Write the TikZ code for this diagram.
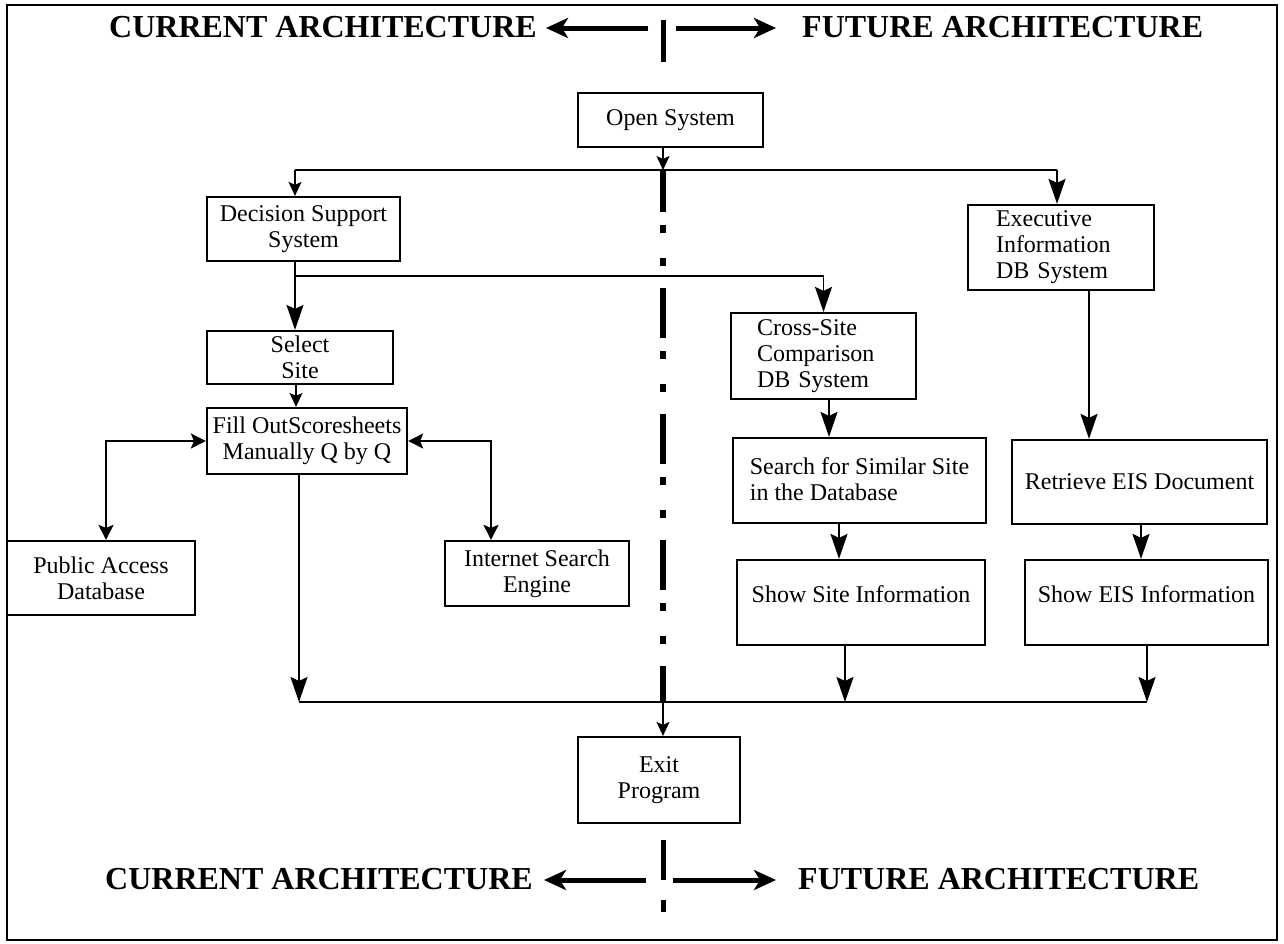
\documentclass[tikz,border=0pt]{standalone}
\usepackage{fontspec}
\setmainfont{Liberation Serif}
\usetikzlibrary{arrows.meta}
\newcommand{\bxfont}{\fontsize{24}{26}\selectfont}
\newcommand{\hdfont}{\fontsize{32}{34}\selectfont\bfseries}
\begin{document}
\begin{tikzpicture}[x=1pt,y=-1pt,
  box/.style={draw,line width=2.2pt,inner sep=0pt,font=\bxfont,align=center},
  lbox/.style={draw,line width=2.2pt,inner ysep=0pt,font=\bxfont,align=left},
  conn/.style={line width=1.8pt},
  arrS/.style={-{Stealth[length=14pt,width=13pt,inset=3pt]}},
  arrB/.style={-{Stealth[length=25pt,width=17pt,inset=4pt]}},
  arrD/.style={{Stealth[length=15pt,width=15pt,inset=3pt]}-{Stealth[length=15pt,width=15pt,inset=3pt]}},
  head/.style={font=\hdfont,inner sep=0pt},
  harr/.style={line width=5pt,-{Stealth[length=22pt,width=20pt,inset=6pt]}},
  divider/.style={line width=5pt},
  centerline/.style={line width=6pt,dash pattern=on 50pt off 13pt on 8pt off 25pt on 8pt off 22pt,dash phase=8pt}
]
\useasboundingbox (0,0) rectangle (1284,943);
\draw[line width=2pt] (7,5) rectangle (1277,940);

% headings
\node[head,anchor=base east] (ct) at (537,37) {CURRENT ARCHITECTURE};
\node[head,anchor=base west] (ft) at (802,37) {FUTURE ARCHITECTURE};
\node[head,anchor=base east] (cb) at (533,889) {CURRENT ARCHITECTURE};
\node[head,anchor=base west] (fb) at (798,889) {FUTURE ARCHITECTURE};
\coordinate (tla) at (648,28); \coordinate (tlb) at (546,28);
\coordinate (tra) at (676,28); \coordinate (trb) at (776,28);
\coordinate (bla) at (646,880); \coordinate (blb) at (544,880);
\coordinate (bra) at (673,880); \coordinate (brb) at (776,880);
\draw[harr] (tla) -- (tlb);
\draw[harr] (tra) -- (trb);
\draw[harr] (bla) -- (blb);
\draw[harr] (bra) -- (brb);
\coordinate (td0) at (663,20); \coordinate (td1) at (663,62);
\coordinate (bd0) at (663,840); \coordinate (bd1) at (663,880);
\coordinate (bd2) at (663,900); \coordinate (bd3) at (663,912);
\draw[divider] (td0) -- (td1);
\draw[divider] (bd0) -- (bd1);
\draw[divider] (bd2) -- (bd3);

% nodes
\node[box,minimum width=185pt,minimum height=54pt] (os) at (670.5,120) {Open System};
\node[box,minimum width=193pt,minimum height=64pt] (dss) at (303.5,229) {Decision Support\\System};
\node[box,minimum width=186pt,minimum height=53pt] (sel) at (300,357.5) {Select\\Site};
\node[box,minimum width=200pt,minimum height=66pt] (fill) at (307,441) {Fill OutScoresheets\\Manually Q by Q};
\node[box,minimum width=188pt,minimum height=74pt] (pa) at (101,578) {Public Access\\Database};
\node[box,minimum width=184pt,minimum height=65pt] (ise) at (537,573.5) {Internet Search\\Engine};
\node[lbox,text width=133pt,inner xsep=26pt,minimum height=86pt] (cs) at (823.5,356) {Cross-Site\\Comparison\\DB System};
\node[lbox,text width=130pt,inner xsep=28pt,minimum height=85pt] (exec) at (1061,247.5) {Executive\\Information\\DB System};
\node[lbox,inner xsep=0pt,minimum width=253pt,minimum height=85pt,text depth=3pt] (srch) at (859.5,480.5) {Search for Similar Site\\in the Database};
\node[box,minimum width=255pt,minimum height=84pt] (retr) at (1139.5,482) {Retrieve EIS Document};
\node[box,minimum width=248pt,minimum height=85pt,text depth=17pt] (ss) at (861,602.5) {Show Site Information};
\node[box,minimum width=243pt,minimum height=85pt,text depth=17pt] (se) at (1146.5,602.5) {Show EIS Information};
\node[box,minimum width=162pt,minimum height=86pt] (exit) at (659,780) {Exit\\Program};

% junctions
\coordinate (j1) at (663,170);
\coordinate (j1l) at (295,170);
\coordinate (j1r) at (1057,170);
\coordinate (j2) at (295,276);
\coordinate (b0) at (663,702);
\coordinate (b1) at (299,702);
\coordinate (b2) at (845,702);
\coordinate (b3) at (1147,702);

% center dash-dot divider
\draw[centerline] (j1) -- (b0);

% connectors
\draw[conn,arrS] (os.south -| j1) -- (j1);
\draw[conn] (j1l) -- (j1r);
\draw[conn,arrS] (j1l) -- (dss.north -| j1l);
\draw[conn,arrB] (j1r) -- (exec.north -| j1r);
\draw[conn,arrB] (dss.south -| j2) -- (sel.north -| j2);
\draw[conn,arrB] (j2) -| (cs.north);
\draw[conn,arrS] (sel.south -| 296,0) -- (fill.north -| 296,0);
\draw[conn,arrD] (fill.west) -| (pa.north -| 106,0);
\draw[conn,arrD] (fill.east) -| (ise.north -| 491,0);
\draw[conn,arrB] (fill.south -| b1) -- (b1);
\draw[conn,arrB] (cs.south -| 829,0) -- (srch.north -| 829,0);
\draw[conn,arrB] (exec.south -| 1089,0) -- (retr.north -| 1089,0);
\draw[conn,arrB] (srch.south -| 839,0) -- (ss.north -| 839,0);
\draw[conn,arrB] (retr.south -| 1141,0) -- (se.north -| 1141,0);
\draw[conn,arrB] (ss.south -| b2) -- (b2);
\draw[conn,arrB] (se.south -| b3) -- (b3);
\draw[conn] (b1) -- (b3);
\draw[conn,arrS] (b0) -- (exit.north -| b0);
\end{tikzpicture}
\end{document}
